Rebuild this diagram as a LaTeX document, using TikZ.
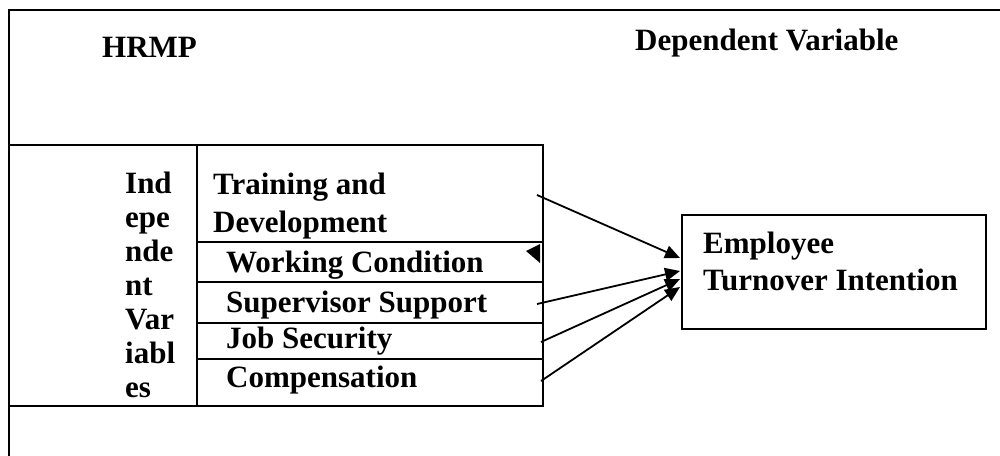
\documentclass[tikz,border=0pt]{standalone}
\usepackage{fontspec}
\setmainfont{Liberation Serif}
\usetikzlibrary{arrows.meta}
\begin{document}
\begin{tikzpicture}[x=1pt,y=-1pt,
  frame/.style={line width=2pt},
  lbl/.style={font=\fontsize{31}{34}\selectfont\bfseries, inner sep=0pt, anchor=base west},
  arr/.style={line width=1.8pt, -{Triangle[length=15pt,width=13pt]}}]
\useasboundingbox (0,0) rectangle (1000,455);
\begin{scope}
\clip (0,0) rectangle (1000,455);
\draw[frame] (9,470) -- (9,10) -- (1010,10);
\end{scope}
% table
\draw[frame] (9,145) -- (543,145) -- (543,406) -- (9,406);
\draw[frame] (197,145) -- (197,406);
\foreach \yy in {242,282,323,359} \draw[frame] (197,\yy) -- (543,\yy);
% headings
\node[lbl] (hrmp) at (102,57) {HRMP};
\node[lbl] (dep) at (635,50) {Dependent Variable};
% independent variables (base anchor = baseline of last line)
\node[lbl, align=left, font=\fontsize{31}{34}\selectfont\bfseries] (iv) at (125,397) {Ind\\epe\\nde\\nt\\Var\\iabl\\es};
\node[lbl, align=left, font=\fontsize{31}{38}\selectfont\bfseries] (td) at (213,232) {Training and\\Development};
\node[lbl] (wc) at (226,272) {Working Condition};
\node[lbl] (ss) at (226,312) {Supervisor Support};
\node[lbl] (js) at (226,348) {Job Security};
\node[lbl] (cp) at (226,387) {Compensation};
% dependent
\node[frame, draw, inner sep=0pt, minimum width=304pt, minimum height=114pt, anchor=north west] (emp) at (681,214) {};
\node[lbl, align=left, font=\fontsize{31}{37}\selectfont\bfseries] (empt) at (703,290) {Employee\\Turnover Intention};
% arrows
\coordinate (s1) at (537,195);
\coordinate (s2) at (537,304);
\coordinate (s3) at (541,342);
\coordinate (s4) at (541,381);
\coordinate (t1) at (680,258);
\coordinate (t2) at (680,271);
\coordinate (t3) at (680,279);
\coordinate (t4) at (680,287);
\draw[arr] (s1) -- (t1);
\draw[arr] (s2) -- (t2);
\draw[arr] (s3) -- (t3);
\draw[arr] (s4) -- (t4);
\fill (526,251) -- (540,244) -- (540,263) -- cycle;
\end{tikzpicture}
\end{document}
